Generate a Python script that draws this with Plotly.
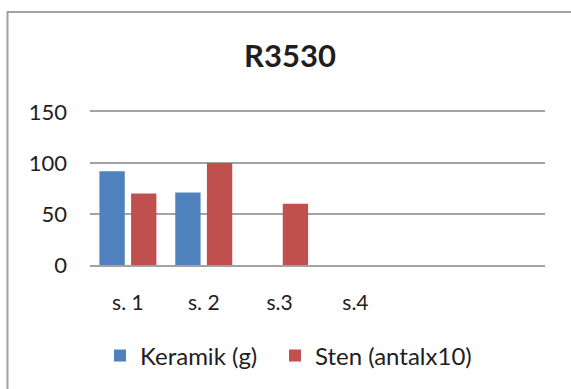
import plotly.graph_objects as go

# Chart data
categories = ["s. 1", "s. 2", "s.3", "s.4", "", ""]
keramik_g = [92, 71, None, None, None, None]
sten_antal_x10 = [70, 100, 60, None, None, None]
y_ticks = [0, 50, 100, 150]

W, H = 571, 389
ML, MR, MT, MB = 90, 26, 112, 124
PW, PH = W - ML - MR, H - MT - MB

FONT = "Lato"
TEXT = "#1e1e1e"
GRID = "#a3a3a6"


def px_x(p):
    return (p - ML) / PW


def px_y(p):
    return (H - MB - p) / PH


xs = list(range(len(categories)))

fig = go.Figure()
fig.add_trace(go.Bar(x=xs, y=keramik_g, name="Keramik (g)", legendwidth=130,
                     marker=dict(color="#4F81BD", line=dict(width=0))))
fig.add_trace(go.Bar(x=xs, y=sten_antal_x10, name="Sten (antalx10)", legendwidth=200,
                     marker=dict(color="#C0504D", line=dict(width=0))))

# chart-area frame (left and top edges)
fig.add_shape(type="path", xref="paper", yref="paper",
              path=f"M {px_x(7.5)} {px_y(400)} L {px_x(7.5)} {px_y(12)} L {px_x(590)} {px_y(12)}",
              line=dict(color="#a0a0a4", width=2))

fig.update_layout(
    width=W, height=H,
    margin=dict(l=ML, r=MR, t=MT, b=MB),
    paper_bgcolor="white", plot_bgcolor="white",
    font=dict(family=FONT, color=TEXT, size=21),
    barmode="group", bargap=0.165, bargroupgap=0.2,
    title=dict(text="<b>R3530</b>", font=dict(family=FONT, size=31, color=TEXT),
               x=290 / W, xanchor="center", xref="container",
               y=1 - 56 / H, yanchor="middle", yref="container"),
    xaxis=dict(range=[-0.5, len(categories) - 0.5], tickvals=xs, ticktext=categories,
               showgrid=False, zeroline=False, showline=True, mirror=True,
               linecolor=GRID, linewidth=1.6, ticks="",
               tickfont=dict(size=21), ticklabelstandoff=18, fixedrange=True),
    yaxis=dict(range=[0, 150], tickvals=y_ticks, showgrid=True, gridcolor=GRID,
               gridwidth=1.6, zeroline=False, showline=False, ticks="",
               tickfont=dict(size=22), ticklabelstandoff=22, fixedrange=True),
    legend=dict(orientation="h", xref="container", yref="container",
                x=100 / W, xanchor="left", y=1 - 356 / H, yanchor="middle",
                font=dict(size=24), traceorder="normal"),
    showlegend=True,
)

fig.write_html("out.html")
